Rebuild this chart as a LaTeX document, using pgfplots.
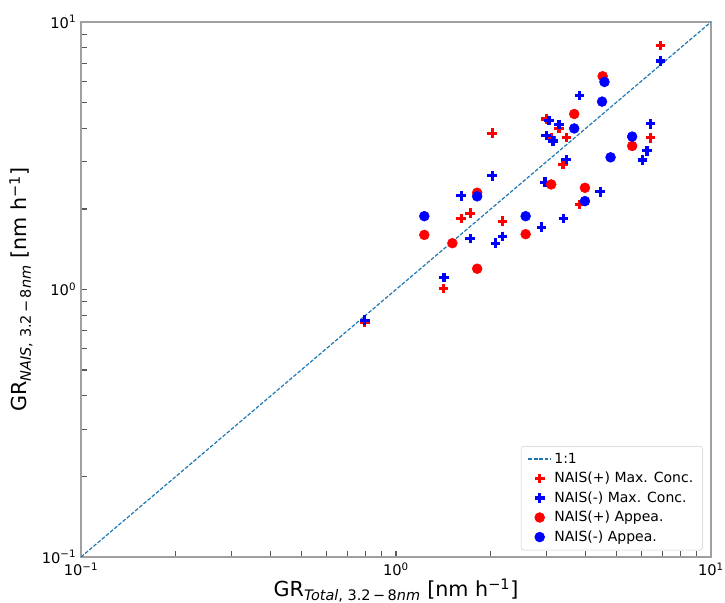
\documentclass[border=0pt]{standalone}
\usepackage{fontspec}
\setmainfont{DejaVu Sans}
\usepackage{pgfplots}
\pgfplotsset{compat=1.18}
\definecolor{tabblue}{HTML}{1F77B4}
\definecolor{spine}{HTML}{A0A0A0}

\begin{document}
\begin{tikzpicture}
\begin{axis}[
    scale only axis, width=472.5pt, height=401.25pt,
    xmode=log, ymode=log,
    xmin=0.1, xmax=10, ymin=0.1, ymax=10,
    xtick={0.1,1,10}, ytick={0.1,1,10},
    minor xtick={0.2,0.3,0.4,0.5,0.6,0.7,0.8,0.9,2,3,4,5,6,7,8,9},
    minor ytick={0.2,0.3,0.4,0.5,0.6,0.7,0.8,0.9,2,3,4,5,6,7,8,9},
    xticklabels={10\textsuperscript{−1},10\textsuperscript{0},10\textsuperscript{1}},
    yticklabels={10\textsuperscript{−1},10\textsuperscript{0},10\textsuperscript{1}},
    tick align=inside, xtick pos=bottom, ytick pos=left,
    major tick length=4.5pt, minor tick length=4.5pt,
    axis line style={spine, line width=1pt},
    tick style={black!65, line width=0.8pt},
    tick label style={font=\fontsize{11}{12}\selectfont},
    xticklabel style={yshift=-1pt},
    label style={font=\fontsize{15.5}{18}\selectfont},
    xlabel style={yshift=5pt},
    xlabel={GR\textsubscript{\textit{Total}, 3.2\,−\,8\textit{nm}} [nm h\textsuperscript{−1}]},
    ylabel={GR\textsubscript{\textit{NAIS}, 3.2\,−\,8\textit{nm}} [nm h\textsuperscript{−1}]},
    legend cell align=left,
    legend style={at={(0.987,0.0125)}, anchor=south east, draw=black!20,
        rounded corners=2pt, font=\fontsize{10.5}{12}\selectfont,
        row sep=1.2pt, inner xsep=5pt, inner ysep=3pt},
]
\addplot[tabblue, line width=0.9pt, dash pattern=on 2.8pt off 1.3pt] coordinates {(0.1,0.1) (10,10)};
\addlegendentry{1:1}

% NAIS(+) Max. Conc.
\addplot[only marks, red, mark=+, mark size=3.6pt, mark options={line width=2.4pt}] coordinates {
    (6.91,8.16) (3.00,4.34) (3.29,4.00) (2.02,3.84) (3.11,3.70) (3.48,3.70)
    (6.43,3.69) (3.39,2.93) (3.82,2.08) (1.61,1.84) (1.72,1.93) (2.18,1.80)
    (1.415,1.01) (0.796,0.755)};
\addlegendentry{NAIS(+) Max. Conc.}

% NAIS(-) Max. Conc.
\addplot[only marks, blue, mark=+, mark size=3.6pt, mark options={line width=2.4pt}] coordinates {
    (6.91,7.15) (3.82,5.32) (3.06,4.29) (3.29,4.14) (3.00,3.77) (3.15,3.59)
    (6.43,4.16) (6.26,3.30) (6.06,3.05) (3.47,3.06) (2.02,2.66) (2.97,2.52)
    (4.45,2.32) (1.61,2.24) (2.90,1.71) (3.40,1.84) (1.72,1.55) (2.18,1.58)
    (2.07,1.49) (1.42,1.11) (0.796,0.768)};
\addlegendentry{NAIS(-) Max. Conc.}

% NAIS(+) Appea.
\addplot[only marks, red, mark=*, mark size=3.7pt, mark options={draw=none, fill=red}] coordinates {
    (4.53,6.27) (3.68,4.53) (5.62,3.44) (3.11,2.47) (3.98,2.40) (1.81,2.30)
    (2.58,1.61) (1.23,1.60) (1.51,1.49) (1.81,1.196)};
\addlegendentry{NAIS(+) Appea.}

% NAIS(-) Appea.
\addplot[only marks, blue, mark=*, mark size=3.7pt, mark options={draw=none, fill=blue}] coordinates {
    (4.59,5.97) (4.51,5.04) (3.68,4.00) (5.62,3.73) (4.80,3.12) (3.98,2.14)
    (1.81,2.23) (1.23,1.88) (2.58,1.88)};
\addlegendentry{NAIS(-) Appea.}
\end{axis}
\pgfresetboundingbox
\path[use as bounding box] ([shift={(-60.75pt,-34.5pt)}]current axis.south west)
    rectangle ([shift={(10.5pt,16.5pt)}]current axis.north east);
\end{tikzpicture}
\end{document}
